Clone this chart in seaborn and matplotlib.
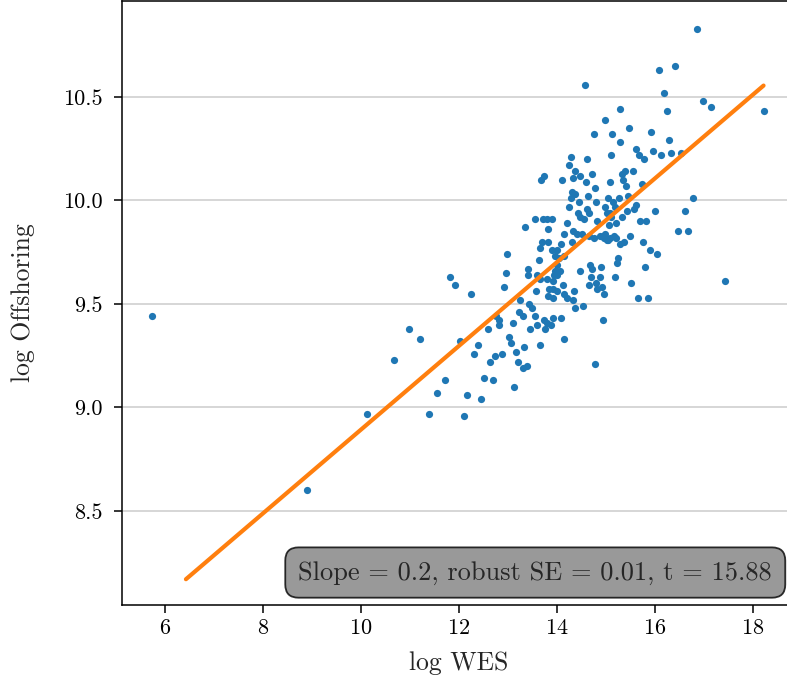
import numpy as np
import pandas as pd
import matplotlib
matplotlib.use("Agg")
import matplotlib.pyplot as plt
from matplotlib.ticker import FormatStrFormatter
import seaborn as sns

log_wes = [
    14.58, 16.86, 16.09, 16.41, 16.18, 16.99, 17.15, 18.23, 14.99, 15.29,
    16.24, 14.75, 15.13, 15.47, 15.93, 15.29, 16.29, 15.61, 15.67, 15.78,
    15.97, 16.13, 16.34, 16.53, 14.28, 14.62, 15.11, 14.24, 14.37, 14.48,
    14.72, 13.73, 13.67, 14.11, 14.33, 14.59, 15.08, 15.33, 15.40, 15.56,
    15.35, 15.41, 15.73, 14.77, 15.05, 15.26, 15.45, 14.31, 14.38, 14.29,
    14.45, 14.63, 14.80, 14.98, 15.15, 15.19, 15.62, 15.58, 16.01, 16.77,
    16.62, 15.03, 15.34, 15.70, 15.83, 15.20, 15.06, 16.47, 16.67, 14.94,
    14.96, 15.17, 15.49, 15.04, 15.76, 15.28, 15.38, 14.24, 14.44, 14.48,
    14.62, 14.65, 14.55, 14.82, 15.08, 15.11, 15.44, 13.71, 13.79, 13.90,
    13.55, 13.36, 14.21, 13.81, 14.14, 14.34, 14.42, 14.51, 14.65, 14.75,
    14.89, 14.99, 15.09, 15.03, 15.20, 13.70, 13.83, 14.09, 14.30, 13.66,
    13.91, 14.01, 13.97, 14.05, 14.15, 12.99, 15.90, 16.05, 15.24, 15.22,
    15.81, 14.90, 15.19, 14.89, 15.52, 17.44, 14.93, 14.96, 15.65, 15.86,
    13.63, 13.41, 13.42, 12.96, 12.93, 11.83, 11.93, 12.24, 14.01, 13.97,
    14.06, 13.95, 14.00, 13.93, 13.80, 13.60, 13.66, 14.47, 14.67, 14.71,
    14.70, 14.13, 14.36, 14.15, 13.93, 13.85, 13.57, 13.81, 13.93, 14.21,
    14.34, 14.00, 14.66, 14.80, 14.83, 14.38, 14.54, 13.25, 13.44, 13.49,
    13.23, 13.32, 13.55, 12.83, 12.81, 13.11, 13.73, 13.80, 13.88, 13.93,
    14.09, 13.60, 13.46, 13.75, 14.94, 12.59, 12.76, 12.03, 12.39, 12.31,
    13.03, 13.07, 13.17, 13.34, 13.65, 12.89, 12.73, 12.64, 13.20, 13.30,
    13.39, 12.51, 12.69, 13.13, 11.72, 12.17, 12.45, 10.99, 11.21, 10.68,
    11.56, 10.13, 11.40, 12.10, 14.15, 14.77, 5.74, 8.90,
]

log_offshoring = [
    10.56, 10.83, 10.63, 10.65, 10.52, 10.48, 10.45, 10.43, 10.39, 10.44,
    10.43, 10.32, 10.32, 10.35, 10.33, 10.28, 10.29, 10.25, 10.22, 10.20,
    10.24, 10.22, 10.23, 10.23, 10.21, 10.20, 10.22, 10.17, 10.14, 10.12,
    10.13, 10.12, 10.10, 10.10, 10.11, 10.09, 10.09, 10.13, 10.14, 10.14,
    10.10, 10.07, 10.08, 10.06, 10.01, 10.01, 10.02, 10.04, 10.03, 10.01,
    9.99, 10.02, 9.99, 9.97, 9.99, 9.97, 9.98, 9.96, 9.95, 10.01,
    9.95, 9.94, 9.92, 9.90, 9.90, 9.89, 9.88, 9.85, 9.85, 9.83,
    9.82, 9.83, 9.83, 9.81, 9.80, 9.79, 9.80, 9.97, 9.94, 9.92,
    9.96, 9.94, 9.91, 9.90, 9.94, 9.92, 9.95, 9.91, 9.91, 9.91,
    9.91, 9.87, 9.89, 9.86, 9.84, 9.85, 9.84, 9.84, 9.83, 9.82,
    9.83, 9.84, 9.82, 9.81, 9.82, 9.80, 9.80, 9.79, 9.80, 9.77,
    9.76, 9.76, 9.73, 9.72, 9.73, 9.74, 9.76, 9.74, 9.72, 9.70,
    9.68, 9.68, 9.63, 9.63, 9.60, 9.61, 9.58, 9.55, 9.53, 9.53,
    9.71, 9.67, 9.64, 9.65, 9.58, 9.63, 9.59, 9.55, 9.69, 9.66,
    9.66, 9.64, 9.64, 9.61, 9.62, 9.64, 9.62, 9.66, 9.69, 9.67,
    9.63, 9.59, 9.56, 9.55, 9.57, 9.57, 9.56, 9.54, 9.53, 9.53,
    9.52, 9.56, 9.59, 9.60, 9.57, 9.48, 9.49, 9.52, 9.50, 9.48,
    9.46, 9.44, 9.44, 9.42, 9.40, 9.41, 9.42, 9.41, 9.40, 9.43,
    9.43, 9.40, 9.38, 9.38, 9.42, 9.38, 9.44, 9.32, 9.30, 9.26,
    9.34, 9.31, 9.27, 9.29, 9.30, 9.26, 9.25, 9.22, 9.22, 9.19,
    9.20, 9.14, 9.13, 9.10, 9.13, 9.06, 9.04, 9.38, 9.33, 9.23,
    9.07, 8.97, 8.97, 8.96, 9.33, 9.21, 9.44, 8.60,
]

fit_slope = 0.2023
fit_intercept = 6.869
fit_x_range = [6.43, 18.22]
annotation = "Slope = 0.2, robust SE = 0.01, t = 15.88"
x_label = "log WES"
y_label = "log Offshoring"
x_ticks = [6, 8, 10, 12, 14, 16, 18]
y_ticks = [8.5, 9.0, 9.5, 10.0, 10.5]

sns.set_style("ticks")
plt.rcParams['font.family'] = ['cmr10', 'DejaVu Serif']
plt.rcParams['axes.formatter.use_mathtext'] = True
plt.rcParams['mathtext.fontset'] = 'cm'
plt.rcParams['axes.unicode_minus'] = False

fig = plt.figure(figsize=(7.87, 6.86), dpi=100)
ax = fig.add_axes([0.155, 0.118, 0.856, 0.881])

df = pd.DataFrame({x_label: log_wes, y_label: log_offshoring})
sns.scatterplot(data=df, x=x_label, y=y_label, ax=ax, s=27, linewidth=0,
                color="#1f77b4", zorder=3)

line_df = pd.DataFrame({"x": fit_x_range,
                        "y": [fit_intercept + fit_slope * v for v in fit_x_range]})
sns.lineplot(data=line_df, x="x", y="y", ax=ax, color="#ff7f0e",
             linewidth=3.0, zorder=4)

ax.set_xlim(5.125, 18.875)
ax.set_ylim(8.045, 10.965)
ax.set_xticks(x_ticks)
ax.set_yticks(y_ticks)
ax.yaxis.set_major_formatter(FormatStrFormatter('%.1f'))
ax.tick_params(labelsize=16, length=6, width=1.1, colors='black')
ax.tick_params(axis='x', pad=4)
ax.tick_params(axis='y', pad=8)
ax.set_xlabel(x_label, fontsize=18.5, labelpad=9)
ax.set_ylabel(y_label, fontsize=18.5, labelpad=20)
for sp in ax.spines.values():
    sp.set_color('black')
    sp.set_linewidth(1.1)
ax.grid(axis='y', color='#d3d3d3', linewidth=1.3)
ax.grid(axis='x', visible=False)
ax.set_axisbelow(True)

ax.text(0.965, 0.034, annotation, transform=ax.transAxes, ha='right',
        va='bottom', fontsize=19,
        bbox=dict(boxstyle='round', facecolor='gray', edgecolor='black',
                  alpha=0.8, pad=0.5, linewidth=1.3))

fig.savefig("out.png", dpi=100)
